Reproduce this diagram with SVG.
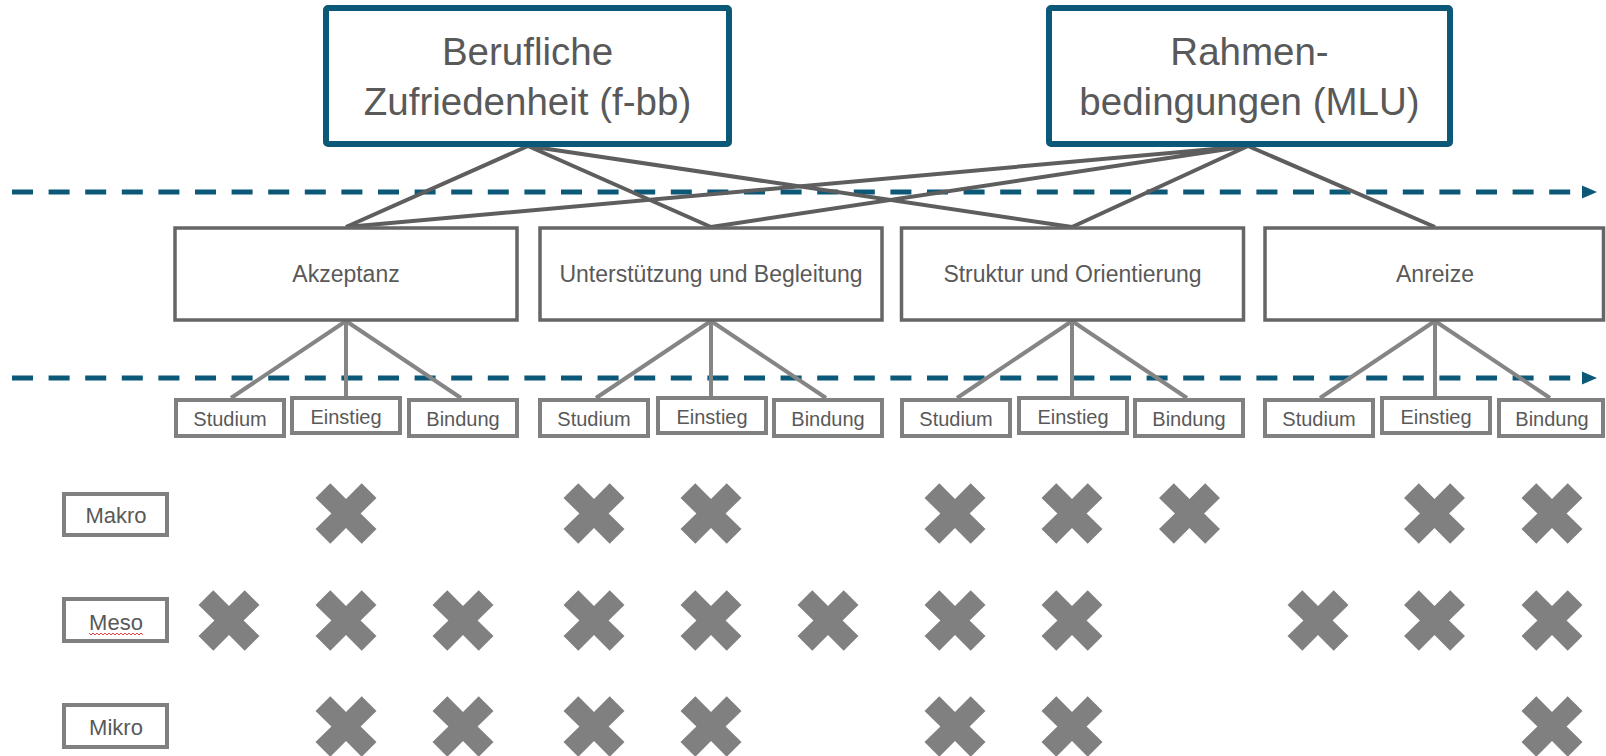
<svg xmlns="http://www.w3.org/2000/svg" xmlns:xlink="http://www.w3.org/1999/xlink" width="1606" height="756" viewBox="0 0 1606 756">
<style>
.top{fill:#fff;stroke:#0C5878;stroke-width:6}
.mid{fill:#fff;stroke:#666;stroke-width:3.5}
.sub{fill:#fff;stroke:#808080;stroke-width:4}
.lvl{fill:#fff;stroke:#808080;stroke-width:4}
text{font-family:"Liberation Sans",Arial,sans-serif;fill:#595959;text-anchor:middle}
.tt{font-size:38.5px}
.mt{font-size:23px}
.st{font-size:20px}
.lt{font-size:22px}
.dash{fill:none;stroke:#0C5878;stroke-width:5;stroke-dasharray:21 15.6}
.c1{stroke:#5E5E5E;stroke-width:4;fill:none}
.c2{stroke:#858585;stroke-width:4;fill:none}
.x{fill:#808080}
</style>
<defs>
<marker id="arr" markerUnits="userSpaceOnUse" markerWidth="16" markerHeight="14" refX="0" refY="7" orient="auto">
<path d="M0,0.5 L15,7 L0,13.5 Z" fill="#0C5878"/>
</marker>
<path id="xm" d="M-15.7,-30.3 L0,-14.6 L15.7,-30.3 L30.5,-15.5 L14.6,0 L30.5,15.5 L15.7,30.3 L0,14.6 L-15.7,30.3 L-30.5,15.5 L-14.6,0 L-30.5,-15.5 Z"/>
</defs>
<rect width="1606" height="756" fill="#fff"/>

<g id="levels">
<path class="dash" d="M12,192 H1582" marker-end="url(#arr)"/>
<path class="dash" d="M12,378 H1582" marker-end="url(#arr)"/>
</g>

<g id="connectors">
<path class="c1" d="M528,146 L346,227 M528,146 L711,227 M528,146 L1072,227"/>
<path class="c1" d="M1248,146 L346,227 M1248,146 L711,227 M1248,146 L1072,227 M1248,146 L1435,227"/>
<path class="c2" d="M346,321 L231,398 M346,321 V396 M346,321 L461,398"/>
<path class="c2" d="M711,321 L596,398 M711,321 V396 M711,321 L826,398"/>
<path class="c2" d="M1072,321 L957,398 M1072,321 V396 M1072,321 L1187,398"/>
<path class="c2" d="M1435,321 L1320,398 M1435,321 V396 M1435,321 L1550,398"/>
</g>

<g id="node-zufriedenheit">
<rect class="top" x="326" y="8" width="403" height="136" rx="2"/>
<text class="tt" x="527.5" y="65">Berufliche</text>
<text class="tt" x="527.5" y="115">Zufriedenheit (f-bb)</text>
</g>
<g id="node-rahmen">
<rect class="top" x="1049" y="8" width="401" height="136" rx="2"/>
<text class="tt" x="1249.5" y="65">Rahmen-</text>
<text class="tt" x="1249.5" y="115">bedingungen (MLU)</text>
</g>

<g id="node-akzeptanz">
<rect class="mid" x="175" y="228" width="342" height="92"/>
<text class="mt" x="346" y="282">Akzeptanz</text>
</g>
<g id="node-unterstuetzung">
<rect class="mid" x="540" y="228" width="342" height="92"/>
<text class="mt" x="711" y="282">Unterstützung und Begleitung</text>
</g>
<g id="node-struktur">
<rect class="mid" x="901.5" y="228" width="342" height="92"/>
<text class="mt" x="1072.5" y="282">Struktur und Orientierung</text>
</g>
<g id="node-anreize">
<rect class="mid" x="1265" y="228" width="338.5" height="92"/>
<text class="mt" x="1435" y="282">Anreize</text>
</g>

<g id="akz-studium"><rect class="sub" x="176" y="400" width="108" height="36"/><text class="st" x="230" y="426">Studium</text></g>
<g id="akz-einstieg"><rect class="sub" x="292" y="398" width="108" height="35"/><text class="st" x="346" y="424">Einstieg</text></g>
<g id="akz-bindung"><rect class="sub" x="409" y="400" width="108" height="36"/><text class="st" x="463" y="426">Bindung</text></g>

<g id="unt-studium"><rect class="sub" x="540" y="400" width="108" height="36"/><text class="st" x="594" y="426">Studium</text></g>
<g id="unt-einstieg"><rect class="sub" x="658" y="398" width="108" height="35"/><text class="st" x="712" y="424">Einstieg</text></g>
<g id="unt-bindung"><rect class="sub" x="774" y="400" width="108" height="36"/><text class="st" x="828" y="426">Bindung</text></g>

<g id="str-studium"><rect class="sub" x="902" y="400" width="108" height="36"/><text class="st" x="956" y="426">Studium</text></g>
<g id="str-einstieg"><rect class="sub" x="1019" y="398" width="108" height="35"/><text class="st" x="1073" y="424">Einstieg</text></g>
<g id="str-bindung"><rect class="sub" x="1135" y="400" width="108" height="36"/><text class="st" x="1189" y="426">Bindung</text></g>

<g id="anr-studium"><rect class="sub" x="1265" y="400" width="108" height="36"/><text class="st" x="1319" y="426">Studium</text></g>
<g id="anr-einstieg"><rect class="sub" x="1382" y="398" width="108" height="35"/><text class="st" x="1436" y="424">Einstieg</text></g>
<g id="anr-bindung"><rect class="sub" x="1499" y="400" width="104" height="36"/><text class="st" x="1552" y="426">Bindung</text></g>

<g id="level-makro"><rect class="lvl" x="64" y="494" width="103" height="41"/><text class="lt" x="116" y="523">Makro</text></g>
<g id="level-meso"><rect class="lvl" x="64" y="599" width="103" height="42"/><text class="lt" x="116" y="630">Meso</text>
<path d="M89,633 l2,2 l2,-2 l2,2 l2,-2 l2,2 l2,-2 l2,2 l2,-2 l2,2 l2,-2 l2,2 l2,-2 l2,2 l2,-2 l2,2 l2,-2 l2,2 l2,-2 l2,2 l2,-2 l2,2 l2,-2 l2,2 l2,-2 l2,2 l2,-2 l2,2" fill="none" stroke="#E03030" stroke-width="0.9"/></g>
<g id="level-mikro"><rect class="lvl" x="64" y="705" width="103" height="42"/><text class="lt" x="116" y="735">Mikro</text></g>

<g id="marks" class="x">
<use xlink:href="#xm" x="346" y="513.5"/>
<use xlink:href="#xm" x="594" y="513.5"/>
<use xlink:href="#xm" x="711" y="513.5"/>
<use xlink:href="#xm" x="955" y="513.5"/>
<use xlink:href="#xm" x="1072" y="513.5"/>
<use xlink:href="#xm" x="1189.5" y="513.5"/>
<use xlink:href="#xm" x="1434.5" y="513.5"/>
<use xlink:href="#xm" x="1552" y="513.5"/>

<use xlink:href="#xm" x="229" y="620.5"/>
<use xlink:href="#xm" x="346" y="620.5"/>
<use xlink:href="#xm" x="463" y="620.5"/>
<use xlink:href="#xm" x="594" y="620.5"/>
<use xlink:href="#xm" x="711" y="620.5"/>
<use xlink:href="#xm" x="828" y="620.5"/>
<use xlink:href="#xm" x="955" y="620.5"/>
<use xlink:href="#xm" x="1072" y="620.5"/>
<use xlink:href="#xm" x="1318" y="620.5"/>
<use xlink:href="#xm" x="1434.5" y="620.5"/>
<use xlink:href="#xm" x="1552" y="620.5"/>

<use xlink:href="#xm" x="346" y="726.5"/>
<use xlink:href="#xm" x="463" y="726.5"/>
<use xlink:href="#xm" x="594" y="726.5"/>
<use xlink:href="#xm" x="711" y="726.5"/>
<use xlink:href="#xm" x="955" y="726.5"/>
<use xlink:href="#xm" x="1072" y="726.5"/>
<use xlink:href="#xm" x="1552" y="726.5"/>
</g>
</svg>
